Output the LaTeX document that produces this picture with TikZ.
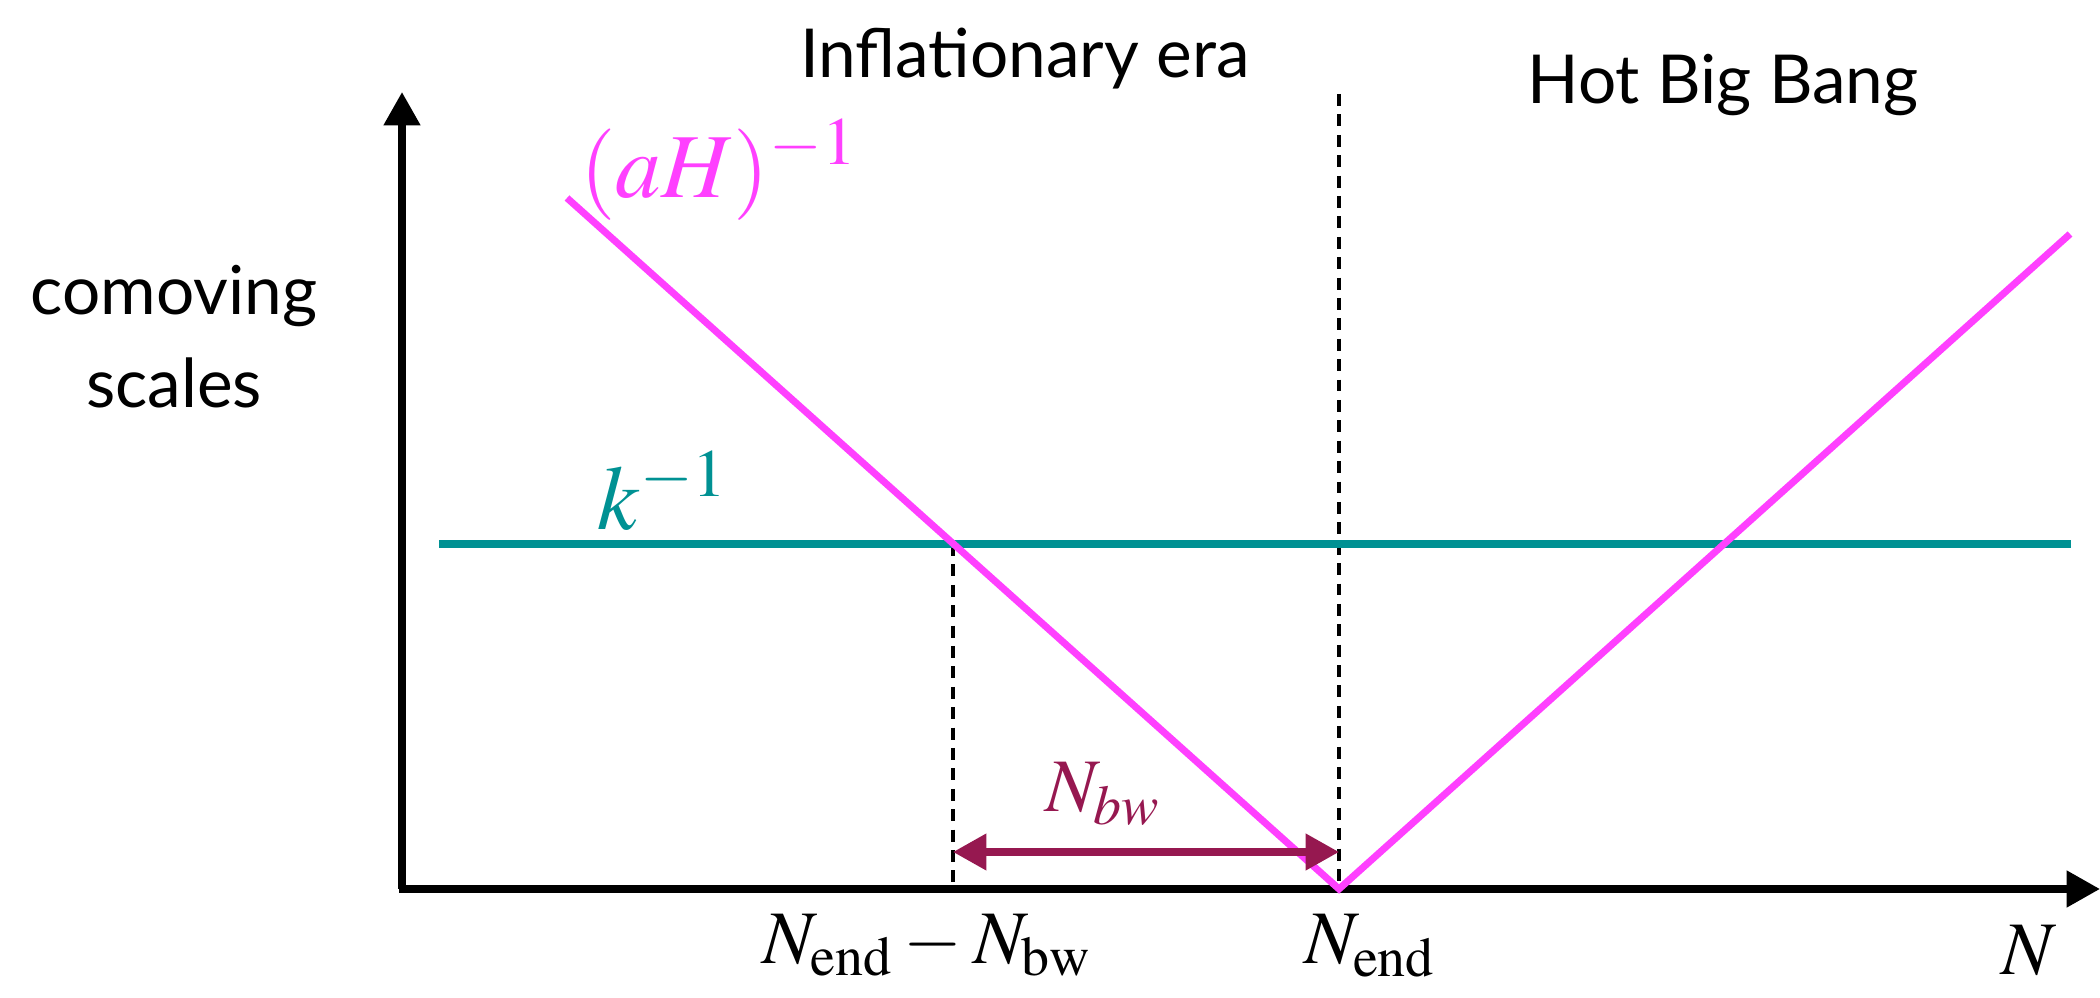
\documentclass[tikz,border=0pt]{standalone}
\usepackage{mathptmx}
\usepackage[no-math]{fontspec}
\setmainfont{Lato}
\usetikzlibrary{arrows.meta}
\definecolor{pinkc}{RGB}{255,64,255}
\definecolor{tealc}{RGB}{0,145,147}
\definecolor{purpc}{RGB}{150,24,80}
\tikzset{
  axisline/.style={line width=2.1pt,-{Triangle[length=9.5pt,width=10pt]}},
  pinkline/.style={line width=2pt,pinkc},
  tealline/.style={line width=2pt,tealc},
  guide/.style={line width=1.4pt,dash pattern=on 3.4pt off 2.4pt},
  bwarrow/.style={line width=2pt,purpc,{Triangle[length=9.5pt,width=10pt]}-{Triangle[length=9.5pt,width=10pt]}},
  sanslabel/.style={inner sep=0pt,anchor=base,font=\fontsize{19.2}{23}\selectfont},
  mathlabel/.style={inner sep=0pt,anchor=base,font=\fontsize{21.5}{26}\selectfont},
  biglabel/.style={inner sep=0pt,anchor=base,font=\fontsize{26}{30}\selectfont}
}
\begin{document}
\begin{tikzpicture}[x=0.01cm,y=-0.01cm]
\useasboundingbox (0,0) rectangle (2100,998);
% coordinates
\coordinate (O) at (402,889);
\coordinate (ytop) at (402,92);
\coordinate (xstart) at (399,889);
\coordinate (xend) at (2100,889);
\coordinate (pA) at (567,198);
\coordinate (pV) at (1339,889);
\coordinate (pB) at (2070,234);
\coordinate (kL) at (439,544);
\coordinate (kR) at (2071,544);
\coordinate (kX) at (953,544);
\coordinate (kXb) at (953,889);
\coordinate (eTop) at (1339,94);
\coordinate (aL) at (953,852);
\coordinate (aR) at (1339,852);
% axes
\draw[axisline] (xstart) -- (xend);
\draw[axisline] (O) -- (ytop);
% guides
\draw[guide] (eTop) -- (pV);
\draw[guide] (kX) -- (kXb);
% curves
\draw[tealline] (kL) -- (kR);
\draw[pinkline] (pA) -- (pV) -- (pB);
\draw[bwarrow] (aL) -- (aR);
% labels
\node[sanslabel] (infl) at (1025,78) {Inflationary era};
\node[sanslabel] (hbb) at (1723,104) {Hot Big Bang};
\node[sanslabel] (como) at (174,315) {comoving};
\node[sanslabel] (scal) at (174,408) {scales};
\node[biglabel,pinkc] (aH) at (719,198) {$(aH)^{-1}$};
\node[biglabel,tealc] (kinv) at (663,530) {$k^{-1}$};
\node[mathlabel,purpc] (Nbw) at (1103,812) {$N_{bw}$};
\node[mathlabel] (Ndiff) at (927,963) {$N_{\mathrm{end}} - N_{\mathrm{bw}}$};
\node[mathlabel] (Nend) at (1370,964) {$N_{\mathrm{end}}$};
\node[mathlabel] (N) at (2029,975) {$N$};
\end{tikzpicture}
\end{document}
